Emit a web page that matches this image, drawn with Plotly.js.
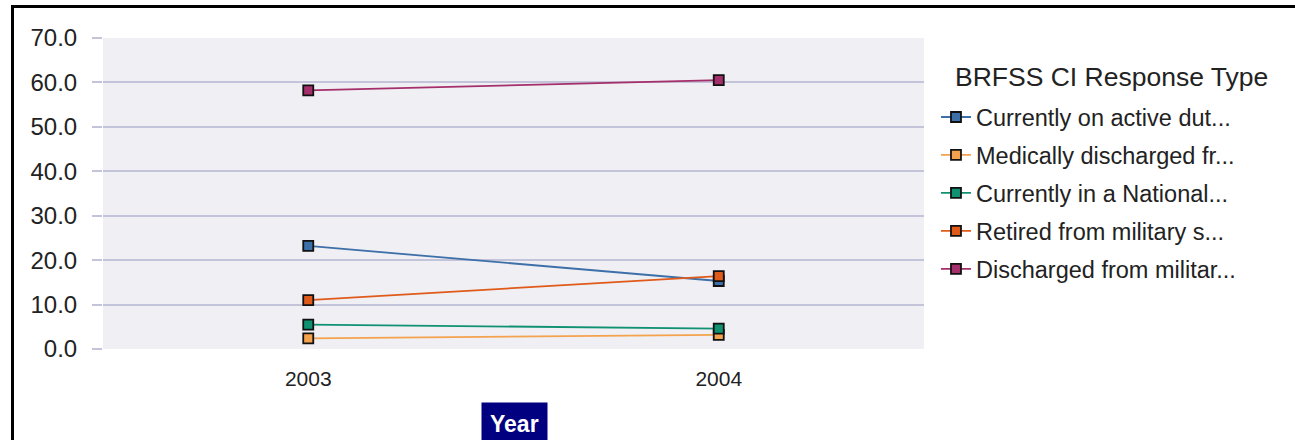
<!DOCTYPE html>
<html>
<head>
<meta charset="utf-8">
<script src="https://cdn.plot.ly/plotly-3.0.1.min.js"></script>
<style>
  html, body { margin: 0; padding: 0; background: #fff; }
  #frame { position: absolute; left: 11px; top: 5px; width: 1300px; height: 450px;
           border-left: 3px solid #000; border-top: 3px solid #000; box-sizing: border-box; }
  #chart { position: absolute; left: 0; top: 0; width: 1295px; height: 440px; }
</style>
</head>
<body>
<div id="frame"></div>
<div id="chart"></div>
<script>
const years = ["2003", "2004"];
const legendTitle = "BRFSS CI Response Type";
const axisTitle = "Year";
const seriesNames = [
  "Currently on active dut...",
  "Medically discharged fr...",
  "Currently in a National...",
  "Retired from military s...",
  "Discharged from militar..."
];
const activeDuty = [23.2, 15.3];
const medicallyDischarged = [2.4, 3.2];
const nationalGuard = [5.5, 4.6];
const retired = [11.0, 16.4];
const discharged = [58.2, 60.5];
const yTickVals = [0, 10, 20, 30, 40, 50, 60, 70];
const yTickText = ["0.0", "10.0", "20.0", "30.0", "40.0", "50.0", "60.0", "70.0"];

const seriesValues = [activeDuty, medicallyDischarged, nationalGuard, retired, discharged];
const colors = ["#3d6fa8", "#f4a24e", "#109272", "#e05a1a", "#a52f6a"];

const traces = seriesNames.map((name, i) => ({
  type: "scatter",
  mode: "lines+markers",
  name: name,
  legendgroup: "g" + i,
  x: years,
  y: seriesValues[i],
  line: { color: colors[i], width: 1.8 },
  marker: { symbol: "square", size: 10, color: colors[i], line: { color: "#111", width: 1.8 } }
}));

const layout = {
  width: 1295,
  height: 440,
  margin: { l: 103, r: 371, t: 38, b: 91 },
  paper_bgcolor: "rgba(0,0,0,0)",
  plot_bgcolor: "#efeff4",
  font: { family: "Liberation Sans, Arial, sans-serif", color: "#222" },
  showlegend: true,
  legend: {
    x: 1.0146, xanchor: "left",
    y: 0.816, yanchor: "top",
    font: { size: 23.5, color: "#222" },
    tracegroupgap: 4.4,
    itemwidth: 30
  },
  xaxis: {
    type: "category",
    range: [-0.5, 1.5],
    showgrid: false,
    zeroline: false,
    showline: false,
    ticks: "",
    tickfont: { size: 21, color: "#222" },
    ticklabelstandoff: 15
  },
  yaxis: {
    range: [0, 70],
    tickvals: yTickVals,
    ticktext: yTickText,
    showgrid: true,
    gridcolor: "#c3c3d9",
    gridwidth: 2,
    zeroline: false,
    showline: false,
    ticks: "outside",
    ticklen: 10,
    tickwidth: 2,
    tickcolor: "#c3c3d9",
    tickfont: { size: 24, color: "#222" },
    ticklabelstandoff: 10
  },
  annotations: [{
    xref: "paper", yref: "paper",
    x: (953 - 103) / 821, y: (349 - 77) / 311,
    xanchor: "left", yanchor: "middle",
    text: legendTitle,
    showarrow: false,
    font: { size: 26.5, color: "#222" }
  }, {
    xref: "paper", yref: "paper",
    x: (514 - 103) / 821, y: (349 - 423.5) / 311,
    xanchor: "center", yanchor: "middle",
    text: "<b>" + axisTitle + "</b>",
    showarrow: false,
    font: { size: 23, color: "#fff", family: "Liberation Sans, Arial, sans-serif" },
    bgcolor: "#000080",
    borderpad: 8
  }]
};

Plotly.newPlot("chart", traces, layout, { displayModeBar: false, staticPlot: true });
</script>
</body>
</html>
